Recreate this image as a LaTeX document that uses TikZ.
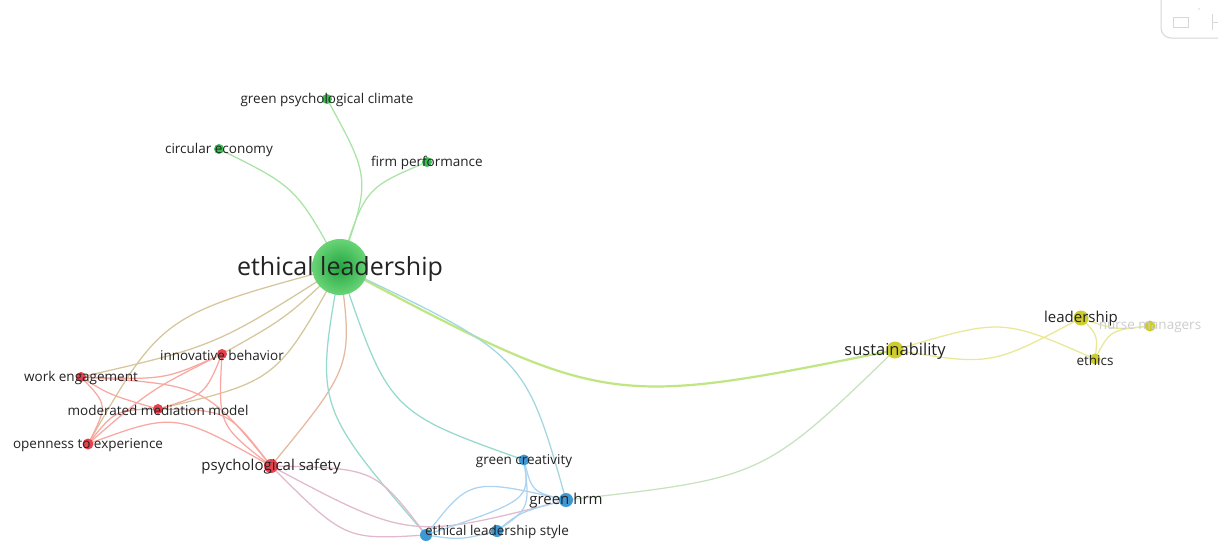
\documentclass[tikz,border=0pt]{standalone}
\usepackage{fontspec}
\setmainfont{Open Sans}
\usetikzlibrary{backgrounds}
\definecolor{cgreen}{RGB}{60,190,85}
\definecolor{cgreenin}{RGB}{35,165,65}
\definecolor{cgreenout}{RGB}{105,212,118}
\definecolor{cred}{RGB}{232,64,76}
\definecolor{cblue}{RGB}{62,152,212}
\definecolor{cyellow}{RGB}{205,205,45}
\definecolor{txt}{RGB}{35,35,35}
\definecolor{txtfaint}{RGB}{205,205,205}
\definecolor{eGreen}{RGB}{168,228,165}
\definecolor{eRed}{RGB}{248,168,160}
\definecolor{eRG}{RGB}{214,198,155}
\definecolor{eBlue}{RGB}{172,212,240}
\definecolor{eGB}{RGB}{150,218,205}
\definecolor{eRB}{RGB}{225,185,205}
\definecolor{eYel}{RGB}{232,232,150}
\definecolor{eGY}{RGB}{192,230,130}
\definecolor{eBY}{RGB}{200,226,190}
\definecolor{uigray}{RGB}{215,215,215}
\tikzset{
  kw/.style={circle, inner sep=0pt, draw=none},
  labs/.style={font=\fontsize{13.5}{14}\selectfont, text=txt, inner sep=0pt, yshift=-1pt},
  labm/.style={font=\fontsize{15}{16}\selectfont, text=txt, inner sep=0pt, yshift=-1pt},
  labl/.style={font=\fontsize{16.5}{17}\selectfont, text=txt, inner sep=0pt, yshift=-1pt},
  labxl/.style={font=\fontsize{25}{26}\selectfont, text=txt, inner sep=0pt, yshift=-1.5pt},
  edge/.style={line width=1.25pt},
}
\begin{document}
\begin{tikzpicture}[x=1pt,y=-1pt]
\useasboundingbox (0,0) rectangle (1218,542);

% UI widget (top right)
\draw[uigray, line width=1pt, rounded corners=10pt] (1161,-20) -- (1161,38) -- (1240,38);
\draw[uigray, line width=1pt] (1173,17) rectangle (1188,27);
\draw[uigray, line width=1pt] (1212,14) -- (1212,30);
\draw[uigray, line width=1pt] (1212,22) -- (1218,22);
\fill[uigray] (1199,9) circle (0.8pt);

% nodes
\node[kw, inner color=cgreenin, outer color=cgreenout, minimum size=56pt, label={[labxl]center:ethical leadership}] (EL) at (340,267) {};
\node[kw, fill=cgreen, minimum size=10pt, label={[labs]center:green psychological climate}] (gpc) at (327,99) {};
\node[kw, fill=cgreen, minimum size=10pt, label={[labs]center:circular economy}] (ce) at (219,149) {};
\node[kw, fill=cgreen, minimum size=10pt, label={[labs]center:firm performance}] (fp) at (427,162) {};
\node[kw, fill=cred, minimum size=10pt, label={[labs]center:innovative behavior}] (ib) at (222,354) {};
\node[kw, fill=cred, minimum size=10pt, label={[labs]center:work engagement}] (we) at (81,377) {};
\node[kw, fill=cred, minimum size=10pt, label={[labs]center:moderated mediation model}] (mmm) at (158,409) {};
\node[kw, fill=cred, minimum size=11pt, label={[labs]center:openness to experience}] (ote) at (88,444) {};
\node[kw, fill=cred, minimum size=14pt, label={[labm]center:psychological safety}] (ps) at (271,466) {};
\node[kw, fill=cblue, minimum size=11pt, label={[labs]center:green creativity}] (gc) at (524,460) {};
\node[kw, fill=cblue, minimum size=14pt, label={[labm]center:green hrm}] (hrm) at (566,500) {};
\node[kw, fill=cblue, minimum size=12pt] (els1) at (426,535) {};
\node[kw, fill=cblue, minimum size=12pt, label={[labs]center:ethical leadership style}] (els) at (497,531) {};
\node[kw, fill=cyellow, minimum size=17pt, label={[labl]center:sustainability}] (sus) at (895,350) {};
\node[kw, fill=cyellow, minimum size=15pt, label={[labm]center:leadership}] (lead) at (1081,318) {};
\node[kw, fill=cyellow, minimum size=11pt, label={[labs]center:ethics}] (eth) at (1095,359) {};
\node[kw, fill=cyellow, minimum size=11pt, label={[labs, text=txtfaint]center:nurse managers}] (nm) at (1150,326) {};

\begin{scope}[on background layer]
\fill[white] (0,0) rectangle (1218,542);
% green cluster
\draw[edge, eGreen] (EL.center) .. controls (371,179) .. (gpc.center);
\draw[edge, eGreen] (EL.center) .. controls (296,187) .. (ce.center);
\draw[edge, eGreen] (EL.center) .. controls (365,188) .. (fp.center);
\draw[line width=2.2pt, eGY] (EL.center) .. controls (607,408) .. (sus.center);
% green - red
\draw[edge, eRG] (EL.center) .. controls (162,315) .. (ote.center);
\draw[edge, eRG] (EL.center) .. controls (286,318) .. (ib.center);
\draw[edge, eRG] (EL.center) .. controls (216,346) .. (we.center);
\draw[edge, eRG] (EL.center) .. controls (277,381) .. (mmm.center);
\draw[edge, eRG!55!eRed] (EL.center) .. controls (353,366) .. (ps.center);
% green - blue
\draw[edge, eGB] (EL.center) .. controls (389,412) .. (gc.center);
\draw[edge, eGB!50!eBlue] (EL.center) .. controls (525,355) .. (hrm.center);
\draw[edge, eGB] (EL.center) .. controls (315,406) .. (els1.center);
% red cluster
\draw[edge, eRed] (we.center) .. controls (165,380) .. (ib.center);
\draw[edge, eRed] (we.center) .. controls (110,395) .. (mmm.center);
\draw[edge, eRed] (we.center) .. controls (108,405) .. (ote.center);
\draw[edge, eRed] (we.center) .. controls (205,385) .. (ps.center);
\draw[edge, eRed] (mmm.center) .. controls (205,395) .. (ib.center);
\draw[edge, eRed] (ote.center) .. controls (150,390) .. (ib.center);
\draw[edge, eRed] (ote.center) .. controls (115,410) .. (mmm.center);
\draw[edge, eRed] (ib.center) .. controls (218,425) .. (ps.center);
\draw[edge, eRed] (mmm.center) .. controls (228,410) .. (ps.center);
\draw[edge, eRed] (ote.center) .. controls (175,412) .. (ps.center);
% red - blue
\draw[edge, eRB] (ps.center) .. controls (375,468) .. (els1.center);
\draw[edge, eRB] (ps.center) .. controls (345,540) .. (els1.center);
\draw[edge, eRB] (ps.center) .. controls (410,540) .. (hrm.center);
% blue cluster
\draw[edge, eBlue] (gc.center) .. controls (532,492) .. (hrm.center);
\draw[edge, eBlue] (gc.center) .. controls (530,508) .. (els.center);
\draw[edge, eBlue] (gc.center) .. controls (530,500) .. (els1.center);
\draw[edge, eBlue] (hrm.center) .. controls (470,478) .. (els1.center);
\draw[edge, eBlue] (hrm.center) .. controls (520,512) .. (els.center);
\draw[edge, eBlue] (els1.center) .. controls (460,540) .. (els.center);
\draw[edge, eBY] (hrm.center) .. controls (763,478) .. (sus.center);
% yellow cluster
\draw[edge, eYel] (sus.center) .. controls (1002,318) .. (eth.center);
\draw[edge, eYel] (sus.center) .. controls (991,366) .. (lead.center);
\draw[edge, eYel] (lead.center) .. controls (1098,335) .. (eth.center);
\draw[edge, eYel] (lead.center) .. controls (1115,330) .. (nm.center);
\draw[edge, eYel] (eth.center) .. controls (1110,330) .. (nm.center);
\end{scope}
\end{tikzpicture}
\end{document}
